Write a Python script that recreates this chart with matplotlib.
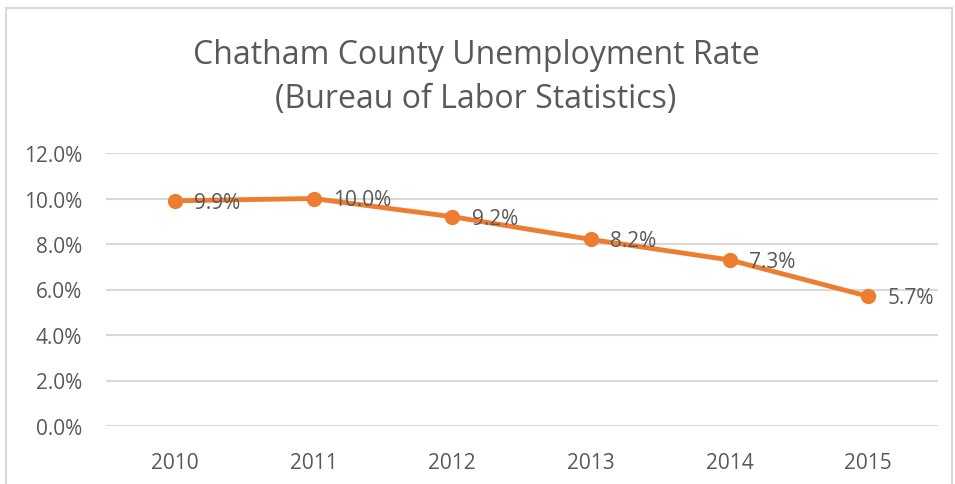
import matplotlib.pyplot as plt
from matplotlib.patches import Rectangle

years = ['2010', '2011', '2012', '2013', '2014', '2015']
rates = [9.9, 10.0, 9.2, 8.2, 7.3, 5.7]
labels = ['9.9%', '10.0%', '9.2%', '8.2%', '7.3%', '5.7%']
yticks = [0, 2, 4, 6, 8, 10, 12]

plt.rcParams['font.family'] = ['Open Sans', 'DejaVu Sans']
grey = '#595959'
orange = '#ED7D31'

fig = plt.figure(figsize=(9.55, 4.85), dpi=100)
W, H = 955, 485
ax = fig.add_axes([105.5 / W, 1 - 427 / H, (937.5 - 105.5) / W, (427 - 154) / H])

x = list(range(len(years)))
ax.plot(x, rates, color=orange, lw=3.5, marker='o', ms=10, zorder=3, solid_capstyle='round')
for xi, yi, lab in zip(x, rates, labels):
    ax.annotate(lab, (xi, yi), xytext=(14, -1), textcoords='offset points',
                va='center', ha='left', fontsize=15, color=grey, zorder=4)

ax.set_xlim(-0.5, 5.5)
ax.set_ylim(0, 12)
ax.set_yticks(yticks)
ax.set_yticklabels(['%.1f%%' % v for v in yticks])
ax.set_xticks(x)
ax.set_xticklabels(years)
ax.tick_params(length=0, labelsize=15, labelcolor=grey)
ax.tick_params(axis='y', pad=17)
ax.tick_params(axis='x', pad=19)
ax.yaxis.grid(True, color='#D9D9D9', lw=1.5)
ax.set_axisbelow(True)
for s in ax.spines.values():
    s.set_visible(False)

fig.text(476 / W, 1 - 55 / H, 'Chatham County Unemployment Rate', ha='center', va='center',
         fontsize=23, color=grey, fontweight='normal')
fig.text(476 / W, 1 - 100 / H, '(Bureau of Labor Statistics)', ha='center', va='center',
         fontsize=23, color=grey, fontweight='normal')

fig.patches.append(Rectangle((6 / W, -0.1), (952 - 6) / W, 1 - 9 / H + 0.1,
                             transform=fig.transFigure, fill=False, ec='#D9D9D9', lw=1.5))

fig.savefig('out.png', dpi=100)
